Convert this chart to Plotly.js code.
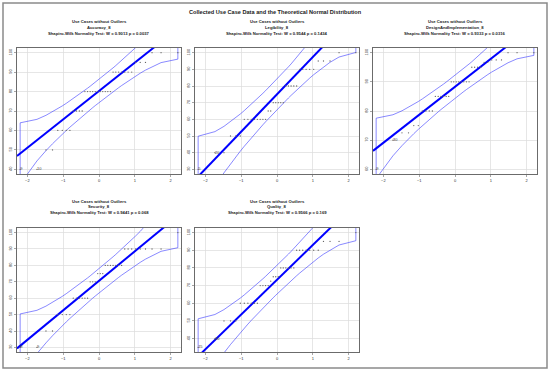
<!DOCTYPE html>
<html><head><meta charset="utf-8">
<script src="https://cdn.plot.ly/plotly-3.0.1.min.js"></script>
<style>html,body{margin:0;padding:0;background:#fff}#chart{width:550px;height:372px}</style>
</head><body><div id="chart"></div>
<script>
// ---------------- data ----------------
const mainTitle = "Collected Use Case Data and the Theoretical Normal Distribution";
const panelTitleTop = "Use Cases without Outliers";
const variableNames = ["Accuracy_8", "Legibility_8", "DesignAndImplementation_8", "Security_8", "Quality_8"];
const shapiroW = ["0.9013", "0.9544", "0.9333", "0.9441", "0.9566"];
const shapiroP = ["0.0037", "0.1434", "0.0316", "0.068", "0.169"];

const accuracy = [40,40,50,50,60,60,60,60,70,70,70,70,80,80,80,80,80,80,80,80,80,80,80,90,90,90,90,90,90,90,95,95,95,100,100,100];
const legibility = [30,40,40,50,50,50,60,60,60,60,60,60,60,60,65,65,70,70,70,70,70,80,80,80,80,80,90,90,90,90,90,95,95,95,100,100];
const designImpl = [60,70,72.5,72.5,75,75,80,80,80,80,85,85,85,85,85,85,90,90,90,90,90,90,90,90,95,95,95,95,96.7,96.7,97.5,97.5,97.5,100,100,100];
const security = [30,30,40,40,50,50,50,50,60,60,60,60,60,60,70,70,70,75,75,75,80,80,80,80,80,80,80,90,90,90,90,90,90,90,90,100];
const quality = [35,40,50,50,50,60,60,60,60,60,60,70,70,70,70,72.5,75,75,75,80,80,80,80,80,80,90,90,90,90,90,90,90,95,95,95,100];

// reference line (robust fit)
const lineIntercept = [80.3, 75.0, 88.3, 70.6, 73.3];
const lineSlope = [14.6, 22.4, 9.6, 18.0, 19.7];
// labels of the two lowest points
const idLabels = [["9","10"], ["5","20"], ["9","30"], ["8","9"], ["15","30"]];
const xTickVals = [-2, -1, 0, 1, 2];
const yTickVals = [[40,50,60,70,80,90,100],[30,40,50,60,70,80,90,100],[60,70,80,90,100],[30,40,50,60,70,80,90,100],[40,50,60,70,80,90,100]];

const series = [accuracy, legibility, designImpl, security, quality];

// ---------------- helpers ----------------
function qnorm(p){
  const a=[-3.969683028665376e+01,2.209460984245205e+02,-2.759285104469687e+02,1.383577518672690e+02,-3.066479806614716e+01,2.506628277459239e+00];
  const b=[-5.447609879822406e+01,1.615858368580409e+02,-1.556989798598866e+02,6.680131188771972e+01,-1.328068155288572e+01];
  const c=[-7.784894002430293e-03,-3.223964580411365e-01,-2.400758277161838e+00,-2.549732539343734e+00,4.374664141464968e+00,2.938163982698783e+00];
  const d=[7.784695709041462e-03,3.224671290700398e-01,2.445134137142996e+00,3.754408661907416e+00];
  const pl=0.02425, ph=1-pl; let q,r;
  if(p<pl){q=Math.sqrt(-2*Math.log(p));return (((((c[0]*q+c[1])*q+c[2])*q+c[3])*q+c[4])*q+c[5])/((((d[0]*q+d[1])*q+d[2])*q+d[3])*q+1);}
  if(p<=ph){q=p-0.5;r=q*q;return (((((a[0]*r+a[1])*r+a[2])*r+a[3])*r+a[4])*r+a[5])*q/(((((b[0]*r+b[1])*r+b[2])*r+b[3])*r+b[4])*r+1);}
  q=Math.sqrt(-2*Math.log(1-p));return -(((((c[0]*q+c[1])*q+c[2])*q+c[3])*q+c[4])*q+c[5])/((((d[0]*q+d[1])*q+d[2])*q+d[3])*q+1);
}
function dnorm(x){return Math.exp(-x*x/2)/Math.sqrt(2*Math.PI);}

const W = 550, H = 372;
const cols = [[17,181],[195,359],[373,537]];
const rows = [[48,174],[228,352]];
const titleRowsY = [[22,27.5,33],[201,206.5,212]];
const place = [[0,0],[1,0],[2,0],[0,1],[1,1]];

const traces = [], annotations = [], layout = {
  width: W, height: H, margin: {l:0,r:0,t:0,b:0},
  paper_bgcolor: "#fff", plot_bgcolor: "#fff", showlegend: false,
  font: {family: "Liberation Sans, Arial, sans-serif", color: "#222"},
  shapes: [{type:"rect", xref:"paper", yref:"paper", x0:3/W, x1:547/W, y0:1-368/H, y1:1-3/H, line:{color:"#8a8a8a", width:1.5}}]
};

annotations.push({xref:"paper", yref:"paper", x:275/W, y:1-12/H, text:"<b>"+mainTitle+"</b>", showarrow:false,
  font:{size:5.6, color:"#1a1a1a"}, xanchor:"center", yanchor:"middle"});

series.forEach((vals, k) => {
  const n = vals.length;
  const sorted = vals.slice().sort((a,b)=>a-b);
  const P = sorted.map((v,i)=>(i+1-0.5)/n);
  const z = P.map(qnorm);
  const a = lineIntercept[k], b = lineSlope[k];
  const zc = qnorm(0.975);
  const fit = z.map(t=>a+b*t);
  const se = z.map((t,i)=> (b/dnorm(t))*Math.sqrt(P[i]*(1-P[i])/n));
  const upper = fit.map((f,i)=>f+zc*se[i]);
  const lower = fit.map((f,i)=>f-zc*se[i]);
  const zr = 1.04*Math.max(...z.map(Math.abs));
  const ymin = sorted[0], ymax = sorted[n-1], span = ymax-ymin;

  const [ci, ri] = place[k];
  const xa = k===0 ? "x" : "x"+(k+1), ya = k===0 ? "y" : "y"+(k+1);
  const xk = k===0 ? "xaxis" : "xaxis"+(k+1), yk = k===0 ? "yaxis" : "yaxis"+(k+1);
  const c = cols[ci], r = rows[ri];
  const common = {showgrid:true, gridcolor:"#dcdcdc", gridwidth:0.7, zeroline:false, showline:true, mirror:true,
    linecolor:"#6b6b6b", linewidth:1, ticks:"outside", ticklen:2, tickwidth:0.6, tickcolor:"#6b6b6b",
    tickfont:{size:4, color:"#333"}, fixedrange:true};
  layout[xk] = Object.assign({}, common, {domain:[c[0]/W, c[1]/W], anchor:ya, range:[-zr, zr], tickvals:xTickVals});
  layout[yk] = Object.assign({}, common, {domain:[1-r[1]/H, 1-r[0]/H], anchor:xa, range:[ymin-0.04*span, ymax+0.04*span],
    tickvals:yTickVals[k], tickangle:-90});

  // envelope polygon
  const ex = z.concat(z.slice().reverse(), [z[0]]);
  const ey = upper.concat(lower.slice().reverse(), [upper[0]]);
  traces.push({type:"scatter", mode:"lines", x:ex, y:ey, xaxis:xa, yaxis:ya,
    line:{color:"rgba(40,40,255,0.55)", width:1}, hoverinfo:"skip"});
  // reference line
  traces.push({type:"scatter", mode:"lines", x:[-zr, zr], y:[a-b*zr, a+b*zr], xaxis:xa, yaxis:ya,
    line:{color:"#0000ff", width:2}, hoverinfo:"skip"});
  // points
  traces.push({type:"scatter", mode:"markers", x:z, y:sorted, xaxis:xa, yaxis:ya,
    marker:{size:1.3, color:"#666"}, hoverinfo:"skip"});
  // id labels
  traces.push({type:"scatter", mode:"text", x:[z[0], z[1]], y:[sorted[0], sorted[1]], text:idLabels[k],
    textposition:"middle right", textfont:{size:4, color:"#444"}, xaxis:xa, yaxis:ya, hoverinfo:"skip", cliponaxis:false});

  const cx = (c[0]+c[1])/2/W;
  const lines = [panelTitleTop, variableNames[k], "Shapiro-Wilk Normality Test: W = "+shapiroW[k]+" p = "+shapiroP[k]];
  lines.forEach((t,j)=>{
    annotations.push({xref:"paper", yref:"paper", x:cx, y:1-titleRowsY[ri][j]/H, text:"<b>"+t+"</b>", showarrow:false,
      font:{size:4.2, color:"#222"}, xanchor:"center", yanchor:"middle"});
  });
});
layout.annotations = annotations;
Plotly.newPlot("chart", traces, layout, {staticPlot:true, displayModeBar:false});
</script>
</body></html>
